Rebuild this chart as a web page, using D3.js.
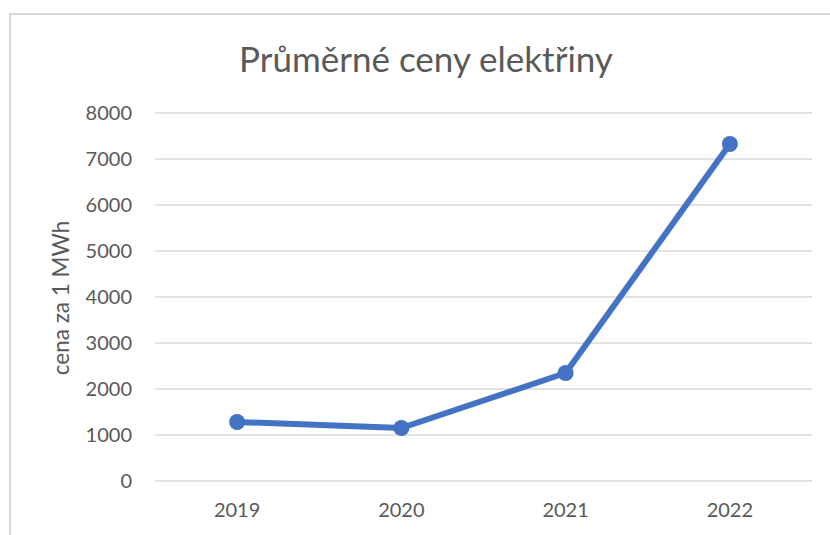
<!DOCTYPE html>
<html>
<head>
<meta charset="utf-8">
<script src="https://cdn.jsdelivr.net/npm/d3@7"></script>
<style>
  body { margin: 0; background: #fff; }
  svg { display: block; }
  text { font-family: Lato, "Open Sans", sans-serif; fill: #595959; }
</style>
</head>
<body>
<script>
// chart data
const years = ['2019', '2020', '2021', '2022'];
const prices = [1283, 1152, 2348, 7326];
const yTicks = [0, 1000, 2000, 3000, 4000, 5000, 6000, 7000, 8000];

const width = 830;
const height = 535;
const margin = { top: 113, right: 18, bottom: 54, left: 155 };

const svg = d3.select('body').append('svg')
    .attr('width', width)
    .attr('height', height);

// outer chart frame (runs off the right/bottom edge)
svg.append('rect')
    .attr('x', 10)
    .attr('y', 14)
    .attr('width', 840)
    .attr('height', 540)
    .attr('fill', 'none')
    .attr('stroke', '#d9d9d9')
    .attr('stroke-width', 2);

const x = d3.scaleBand()
    .domain(years)
    .range([margin.left, width - margin.right]);

const y = d3.scaleLinear()
    .domain([0, 8000])
    .range([height - margin.bottom, margin.top]);

// gridlines
svg.append('g')
    .selectAll('line')
    .data(yTicks)
    .enter().append('line')
    .attr('x1', margin.left)
    .attr('x2', width - margin.right)
    .attr('y1', d => y(d))
    .attr('y2', d => y(d))
    .attr('stroke', '#d9d9d9')
    .attr('stroke-width', 1.5);

// y axis labels
const yAxis = svg.append('g')
    .attr('transform', 'translate(' + (margin.left - 23) + ',0)')
    .call(d3.axisLeft(y).tickValues(yTicks).tickFormat(d3.format('d')).tickSize(0).tickPadding(0));
yAxis.select('.domain').remove();
yAxis.selectAll('text')
    .attr('font-size', 20)
    .style('font-family', 'Lato, sans-serif')
    .attr('fill', '#595959');

// x axis labels
const xAxis = svg.append('g')
    .attr('transform', 'translate(0,' + (height - margin.bottom + 22) + ')')
    .call(d3.axisBottom(x).tickSize(0).tickPadding(0));
xAxis.select('.domain').remove();
xAxis.selectAll('text')
    .attr('font-size', 20)
    .style('font-family', 'Lato, sans-serif')
    .attr('fill', '#595959');

// title
svg.append('text')
    .attr('x', 426)
    .attr('y', 72)
    .attr('text-anchor', 'middle')
    .attr('font-size', 35)
    .text('Průměrné ceny elektřiny');

// y axis title
svg.append('text')
    .attr('transform', 'translate(69,' + 298 + ') rotate(-90)')
    .attr('text-anchor', 'middle')
    .attr('font-size', 22.5)
    .text('cena za 1 MWh');

const points = years.map((d, i) => ({ year: d, value: prices[i] }));

const line = d3.line()
    .x(d => x(d.year) + x.bandwidth() / 2)
    .y(d => y(d.value));

svg.append('path')
    .datum(points)
    .attr('d', line)
    .attr('fill', 'none')
    .attr('stroke', '#4472c4')
    .attr('stroke-width', 6)
    .attr('stroke-linejoin', 'round')
    .attr('stroke-linecap', 'round');

svg.append('g')
    .selectAll('circle')
    .data(points)
    .enter().append('circle')
    .attr('cx', d => x(d.year) + x.bandwidth() / 2)
    .attr('cy', d => y(d.value))
    .attr('r', 8)
    .attr('fill', '#4472c4');
</script>
</body>
</html>
